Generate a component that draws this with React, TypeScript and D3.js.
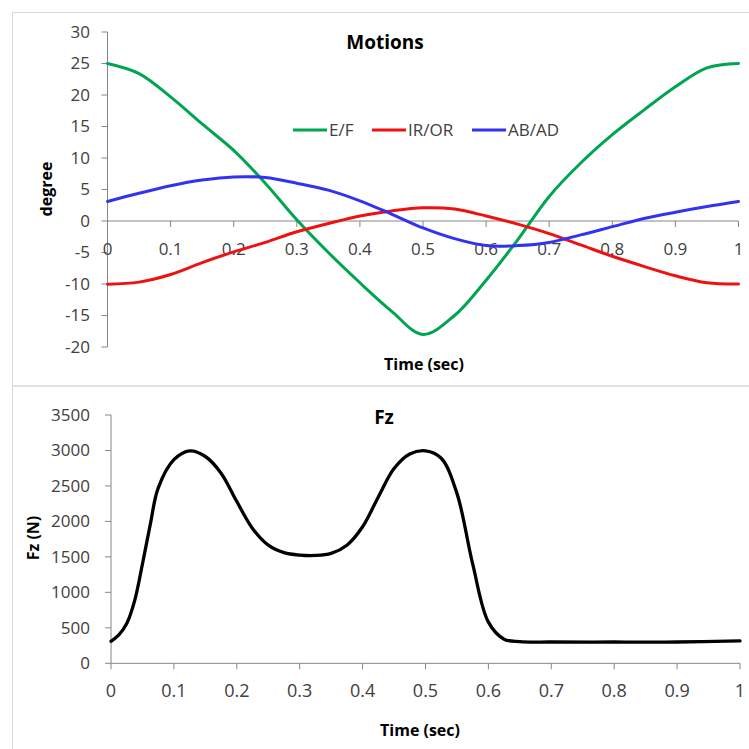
import React from "react";
import * as d3 from "d3";

const timeTicks = [0, 0.1, 0.2, 0.3, 0.4, 0.5, 0.6, 0.7, 0.8, 0.9, 1];
const degreeTicks = [-20, -15, -10, -5, 0, 5, 10, 15, 20, 25, 30];
const fzTicks = [0, 500, 1000, 1500, 2000, 2500, 3000, 3500];

const tMotion = [0, 0.05, 0.1, 0.15, 0.2, 0.25, 0.3, 0.35, 0.4, 0.45, 0.5, 0.55, 0.6, 0.65, 0.7, 0.75, 0.8, 0.85, 0.9, 0.95, 1];
const efValues = [25, 23.4, 19.7, 15.4, 11.2, 6.0, 0.2, -5.0, -9.8, -14.3, -18, -15.0, -9.4, -3.0, 3.9, 9.2, 13.7, 17.6, 21.3, 24.3, 25];
const irorValues = [-10.05, -9.7, -8.5, -6.6, -4.9, -3.4, -1.7, -0.4, 0.8, 1.6, 2.1, 1.9, 0.8, -0.5, -2.0, -3.8, -5.6, -7.2, -8.7, -9.8, -10];
const abadValues = [3.1, 4.4, 5.6, 6.5, 7.0, 6.9, 6.0, 4.9, 3.2, 1.1, -1.1, -2.8, -3.9, -3.9, -3.4, -2.2, -0.9, 0.4, 1.4, 2.3, 3.1];

const seriesNames = ["E/F", "IR/OR", "AB/AD"];
const seriesColors = ["#00A550", "#EE1111", "#3232F0"];

const tFz = [0, 0.0125, 0.025, 0.0375, 0.05, 0.0625, 0.075, 0.1, 0.125, 0.15, 0.175, 0.2, 0.225, 0.25, 0.275, 0.3, 0.325, 0.35, 0.375, 0.4, 0.425, 0.45, 0.475, 0.5, 0.525, 0.55, 0.575, 0.6, 0.625, 0.65, 0.7, 0.8, 0.9, 1];
const fzValues = [310, 400, 560, 880, 1400, 1960, 2470, 2870, 2995, 2915, 2680, 2280, 1900, 1665, 1560, 1525, 1520, 1550, 1665, 1925, 2345, 2745, 2950, 2995, 2890, 2395, 1400, 580, 340, 305, 300, 300, 300, 315];

const FONT = "'Open Sans', 'DejaVu Sans', sans-serif";
const AXIS = "#868686";
const LABEL = "#404040";

function fmt(v: number) {
  return String(v);
}

export default function App() {
  const xTop = d3.scaleLinear().domain([0, 1]).range([107.5, 738.5]);
  const yTop = d3.scaleLinear().domain([-20, 30]).range([347, 32]);
  const xBot = d3.scaleLinear().domain([0, 1]).range([111, 740]);
  const yBot = d3.scaleLinear().domain([0, 3500]).range([663.3, 415]);

  const motionSeries = [efValues, irorValues, abadValues];
  const lineTop = d3
    .line<number>()
    .x((_, i) => xTop(tMotion[i]))
    .y((d) => yTop(d))
    .curve(d3.curveCatmullRom.alpha(0.5));
  const lineBot = d3
    .line<number>()
    .x((_, i) => xBot(tFz[i]))
    .y((d) => yBot(d))
    .curve(d3.curveCatmullRom.alpha(0.5));

  const legendX = [293, 372, 472];

  return (
    <div style={{ position: "absolute", left: 0, top: 0 }}>
      <svg width={749} height={749} style={{ display: "block", background: "#fff" }} fontFamily={FONT}>
        <rect x={12.5} y={12.5} width={760} height={373.5} fill="none" stroke="#D9D9D9" strokeWidth={1} />
        <rect x={12.5} y={386} width={760} height={380} fill="none" stroke="#D9D9D9" strokeWidth={1} />

        {/* ===== TOP CHART ===== */}
        <text x={385} y={49} textAnchor="middle" fontSize={19} fontWeight="bold" fill="#000">Motions</text>

        <line x1={xTop(0)} x2={xTop(0)} y1={yTop(30)} y2={yTop(-20)} stroke={AXIS} />
        {degreeTicks.map((v) => (
          <g key={"yt" + v}>
            <line x1={xTop(0) - 6} x2={xTop(0)} y1={yTop(v)} y2={yTop(v)} stroke={AXIS} />
            <text x={90} y={yTop(v)} dy="0.35em" textAnchor="end" fontSize={17} fill={LABEL}>{fmt(v)}</text>
          </g>
        ))}
        <line x1={xTop(0)} x2={xTop(1)} y1={yTop(0)} y2={yTop(0)} stroke={AXIS} />
        {timeTicks.map((t) => (
          <g key={"xt" + t}>
            <line x1={xTop(t)} x2={xTop(t)} y1={yTop(0)} y2={yTop(0) + 6} stroke={AXIS} />
            <text x={xTop(t)} y={255} textAnchor="middle" fontSize={17} fill={LABEL}>{fmt(t)}</text>
          </g>
        ))}

        {motionSeries.map((vals, i) => (
          <path key={"s" + i} d={lineTop(vals) || ""} fill="none" stroke={seriesColors[i]} strokeWidth={3} strokeLinejoin="round" strokeLinecap="round" />
        ))}

        {seriesNames.map((n, i) => (
          <g key={"lg" + i}>
            <line x1={legendX[i]} x2={legendX[i] + 34} y1={130} y2={130} stroke={seriesColors[i]} strokeWidth={3} />
            <text x={legendX[i] + 36} y={130} dy="0.36em" fontSize={17} fill={LABEL}>{n}</text>
          </g>
        ))}

        <text x={424} y={370} textAnchor="middle" fontSize={16} fontWeight="bold" fill="#000">Time (sec)</text>
        <text transform={`translate(52,189) rotate(-90)`} textAnchor="middle" fontSize={16} fontWeight="bold" fill="#000">degree</text>

        {/* ===== BOTTOM CHART ===== */}
        <text x={384} y={424} textAnchor="middle" fontSize={19} fontWeight="bold" fill="#000">Fz</text>

        <line x1={xBot(0)} x2={xBot(0)} y1={yBot(3500)} y2={yBot(0)} stroke={AXIS} />
        {fzTicks.map((v) => (
          <g key={"fy" + v}>
            <line x1={xBot(0) - 6} x2={xBot(0)} y1={yBot(v)} y2={yBot(v)} stroke={AXIS} />
            <text x={90} y={yBot(v)} dy="0.35em" textAnchor="end" fontSize={17} fill={LABEL}>{fmt(v)}</text>
          </g>
        ))}
        <line x1={xBot(0)} x2={xBot(1)} y1={yBot(0)} y2={yBot(0)} stroke={AXIS} />
        {timeTicks.map((t) => (
          <g key={"fx" + t}>
            <line x1={xBot(t)} x2={xBot(t)} y1={yBot(0)} y2={yBot(0) + 6} stroke={AXIS} />
            <text x={xBot(t)} y={697} textAnchor="middle" fontSize={18} fill={LABEL}>{fmt(t)}</text>
          </g>
        ))}

        <path d={lineBot(fzValues) || ""} fill="none" stroke="#000" strokeWidth={3.3} strokeLinejoin="round" strokeLinecap="round" />

        <text x={420} y={736} textAnchor="middle" fontSize={16} fontWeight="bold" fill="#000">Time (sec)</text>
        <text transform={`translate(39,538) rotate(-90)`} textAnchor="middle" fontSize={16} fontWeight="bold" fill="#000">Fz (N)</text>
      </svg>
    </div>
  );
}
